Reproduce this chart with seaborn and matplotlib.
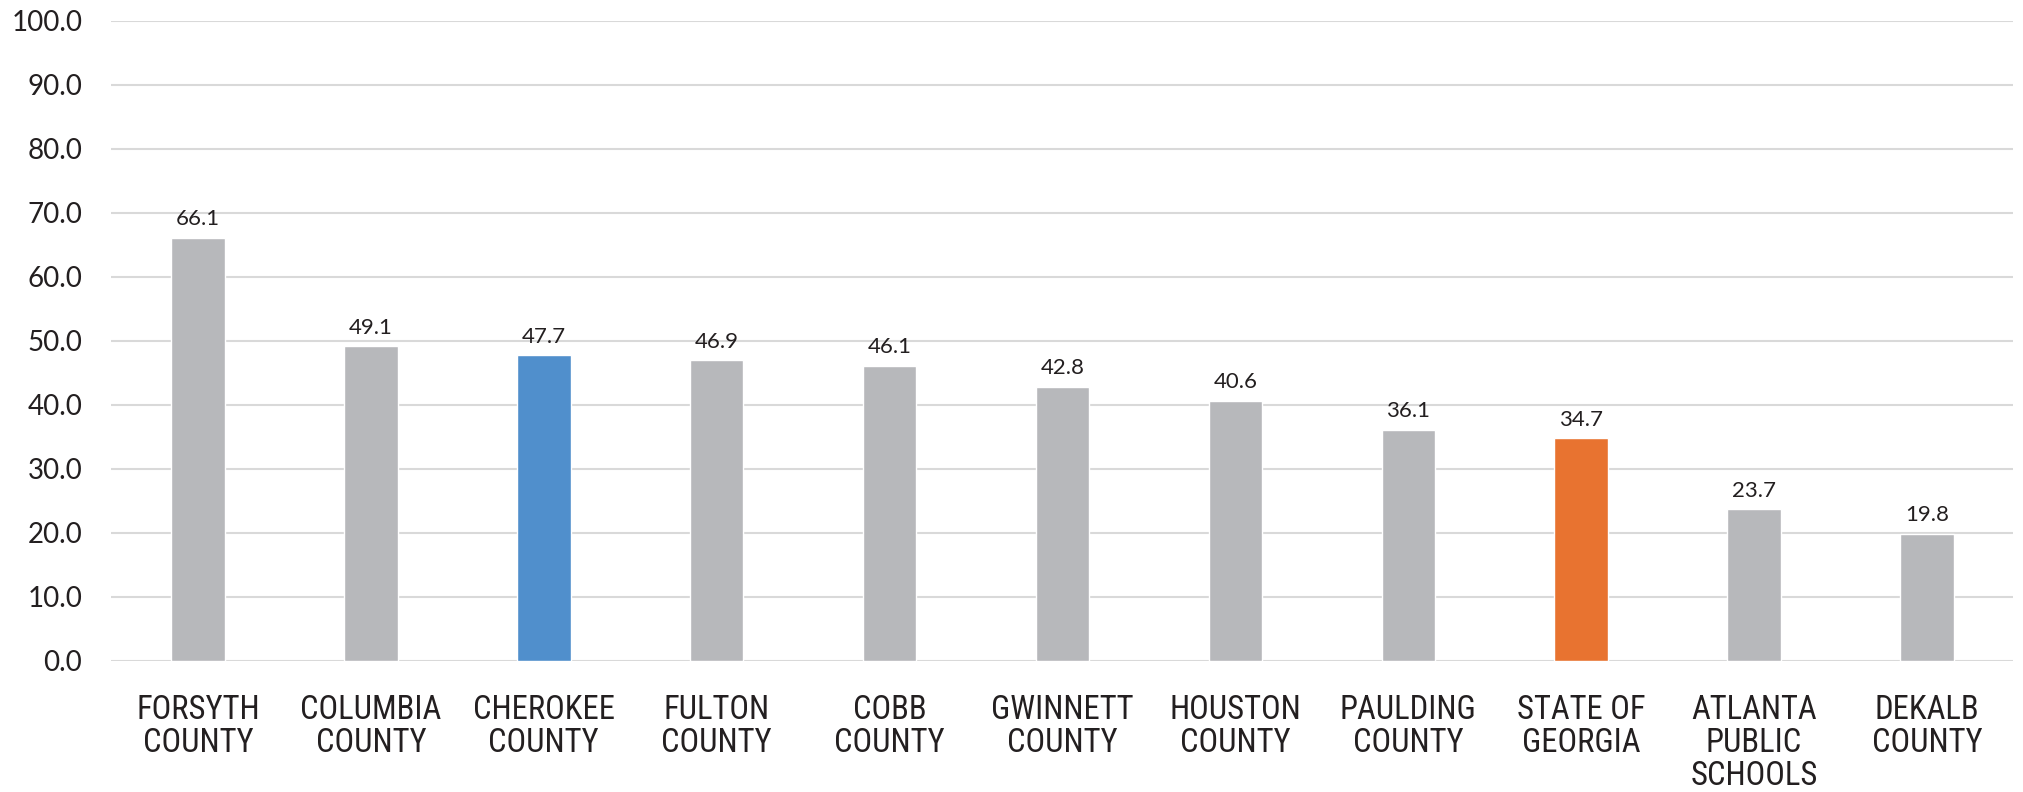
import matplotlib
matplotlib.use("Agg")
import matplotlib.pyplot as plt
from matplotlib import font_manager
from matplotlib.font_manager import FontProperties
import seaborn as sns
import pandas as pd

categories = ["FORSYTH\nCOUNTY", "COLUMBIA\nCOUNTY", "CHEROKEE\nCOUNTY", "FULTON\nCOUNTY",
              "COBB\nCOUNTY", "GWINNETT\nCOUNTY", "HOUSTON\nCOUNTY", "PAULDING\nCOUNTY",
              "STATE OF\nGEORGIA", "ATLANTA\nPUBLIC\nSCHOOLS", "DEKALB\nCOUNTY"]
values = [66.1, 49.1, 47.7, 46.9, 46.1, 42.8, 40.6, 36.1, 34.7, 23.7, 19.8]
bar_colors = ["#B7B8BB", "#B7B8BB", "#508FCC", "#B7B8BB", "#B7B8BB", "#B7B8BB",
              "#B7B8BB", "#B7B8BB", "#E87330", "#B7B8BB", "#B7B8BB"]
y_ticks = [0, 10, 20, 30, 40, 50, 60, 70, 80, 90, 100]

sns.set_theme(style="white")
font_list = font_manager.fontManager.ttflist
names = {f.name for f in font_list}
num_font = "Lato" if "Lato" in names else "DejaVu Sans"
plt.rcParams["font.family"] = [num_font, "DejaVu Sans"]

# find a condensed sans font for the category labels
def pick_condensed():
    prefs = [("Liberation Sans Narrow", None), ("Roboto Condensed", None),
             ("Open Sans Condensed", None), ("DejaVu Sans", "condensed"),
             ("Noto Sans", "condensed"), ("Open Sans", "condensed")]
    for nm, st in prefs:
        for f in font_list:
            if f.name == nm and f.style == "normal" and f.weight in (400, "normal", "regular"):
                if st is None or str(f.stretch) in ("condensed", "semi-condensed", "75", "87.5"):
                    return FontProperties(fname=f.fname), True
    for f in font_list:
        fn = f.fname.lower()
        if ("condensed" in fn or "narrow" in fn) and f.style == "normal" \
                and "bold" not in fn and "italic" not in fn and "light" not in fn:
            return FontProperties(fname=f.fname), True
    return FontProperties(family="Roboto"), False

lab_fp, condensed = pick_condensed()
lab_fp.set_size(23.5 if condensed else 21)

text_color = "#231F20"
df = pd.DataFrame({"cat": categories, "val": values})

fig = plt.figure(figsize=(20.23, 7.92), dpi=100)
ax = fig.add_axes([0.0551, 0.166, 0.9402, 0.808])
sns.barplot(data=df, x="cat", y="val", hue="cat", palette=bar_colors, width=0.31,
            legend=False, ax=ax, saturation=1)

ax.set_ylim(0, 100)
ax.set_xlim(-0.5, len(categories) - 0.5)
ax.set_yticks(y_ticks)
ax.set_yticklabels([f"{v:.1f}" for v in y_ticks], fontsize=20, color=text_color,
                   family=[num_font])
ax.set_xticks(range(len(categories)))
ax.set_xticklabels(categories, fontproperties=lab_fp, color=text_color,
                   linespacing=1.05, va="top")
ax.tick_params(axis="y", length=0, pad=21)
ax.tick_params(axis="x", length=0, pad=24)
ax.set_xlabel("")
ax.set_ylabel("")
ax.yaxis.grid(True, color="#D9D9D9", linewidth=1.5)
ax.set_axisbelow(True)
for s in ax.spines.values():
    s.set_visible(False)

for c in ax.containers:
    ax.bar_label(c, fmt="%.1f", padding=6, fontsize=16, color=text_color, family=[num_font])

fig.savefig("out.png", dpi=100)
